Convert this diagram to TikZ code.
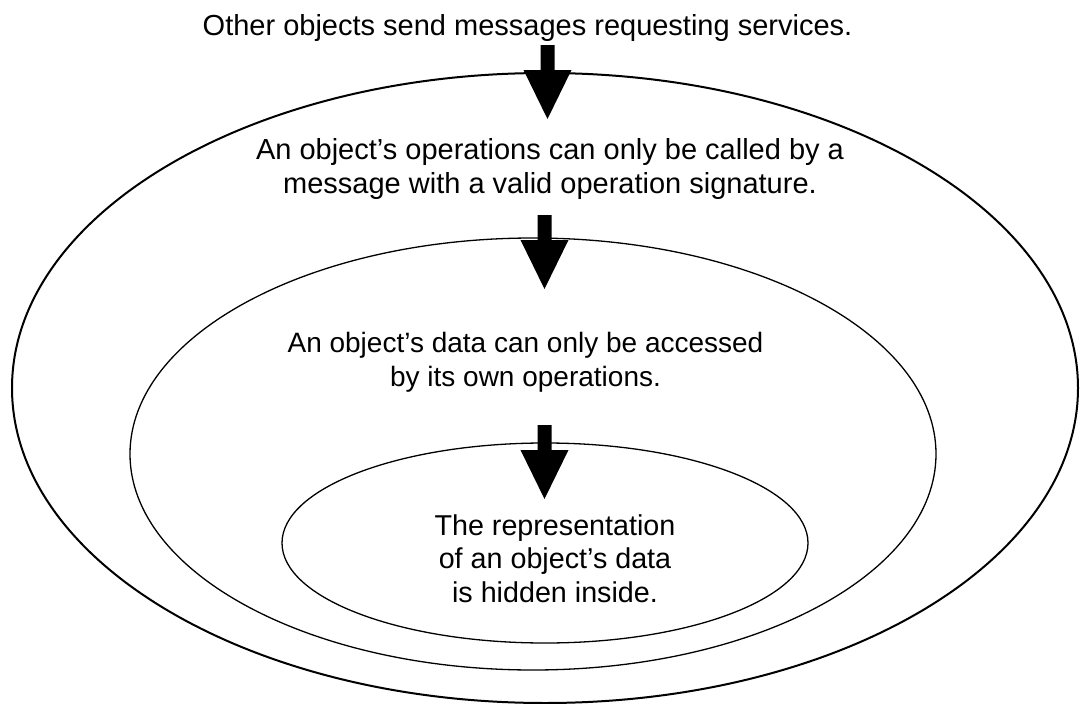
\documentclass[tikz,border=0pt]{standalone}
\usepackage{fontspec}
\setmainfont{Liberation Sans}
\begin{document}
\begin{tikzpicture}[x=1pt,y=-1pt,
  ring/.style={draw=black, line width=1.3pt},
  outerring/.style={draw=black, line width=2pt},
  caption/.style={font=\fontsize{#1}{33.5}\selectfont, align=center, inner sep=0pt, anchor=base},
  caption/.default=28,
  pushdown/.pic={\fill[black] (-7,0) -- (7,0) -- (7,25) -- (24,25) -- (0,74) -- (-24,25) -- (-7,25) -- cycle;}]
\useasboundingbox (0,0) rectangle (1080,704);

% nested layers of the object
\draw[outerring] (545,388) ellipse [x radius=533pt, y radius=315pt];
\draw[ring] (533,454) ellipse [x radius=403pt, y radius=216pt];
\draw[ring] (545,543) ellipse [x radius=263pt, y radius=100pt];

% texts for each layer (placed at the baseline of their last line)
\node[caption=29] (msg) at (527.5,35) {Other objects send messages requesting services.};
\node[caption=29] (ops) at (550,193) {An object’s operations can only be called by a\\message with a valid operation signature.};
\node[caption=28] (data) at (525.5,386) {An object’s data can only be accessed\\by its own operations.};
\node[caption=28.7] (repr) at (555,602) {The representation\\of an object’s data\\is hidden inside.};

% block arrows pointing inwards
\pic at (547.5,45) {pushdown};
\pic at (544.5,215) {pushdown};
\pic at (544.5,425) {pushdown};
\end{tikzpicture}
\end{document}
